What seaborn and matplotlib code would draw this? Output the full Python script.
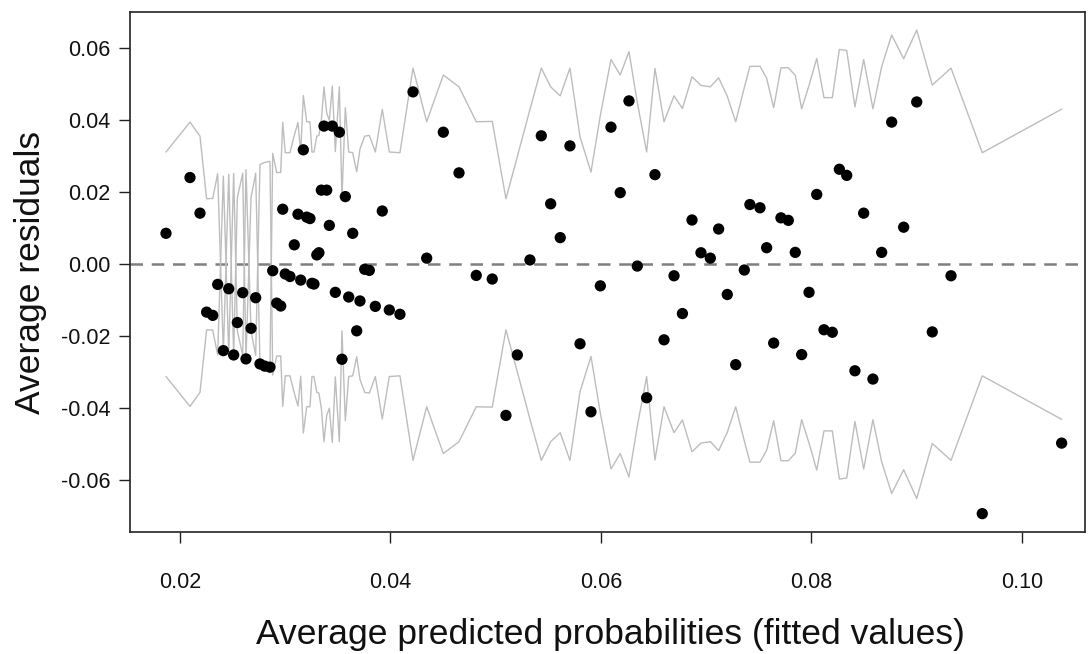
import matplotlib
matplotlib.use("Agg")
import matplotlib.pyplot as plt
import seaborn as sns
import numpy as np
import pandas as pd

# Binned residuals: bin mean of fitted values, bin mean residual, and 2*SE bound
fitted = [
    0.01867, 0.02095, 0.02190, 0.02253, 0.02311, 0.02358, 0.02412, 0.02463, 0.02510, 0.02545,
    0.02596, 0.02627, 0.02675, 0.02719, 0.02760, 0.02805, 0.02855, 0.02881, 0.02919, 0.02957,
    0.02976, 0.03000, 0.03045, 0.03086, 0.03121, 0.03147, 0.03172, 0.03204, 0.03235, 0.03254,
    0.03273, 0.03300, 0.03320, 0.03343, 0.03368, 0.03394, 0.03419, 0.03447, 0.03476, 0.03514,
    0.03539, 0.03571, 0.03603, 0.03641, 0.03679, 0.03710, 0.03755, 0.03799, 0.03856, 0.03922,
    0.03989, 0.04090, 0.04214, 0.04344, 0.04502, 0.04651, 0.04815, 0.04967, 0.05097, 0.05205,
    0.05325, 0.05433, 0.05522, 0.05613, 0.05705, 0.05801, 0.05905, 0.05994, 0.06095, 0.06183,
    0.06266, 0.06345, 0.06434, 0.06513, 0.06599, 0.06694, 0.06774, 0.06865, 0.06950, 0.07039,
    0.07118, 0.07200, 0.07280, 0.07362, 0.07415, 0.07511, 0.07574, 0.07641, 0.07710, 0.07780,
    0.07846, 0.07907, 0.07977, 0.08050, 0.08119, 0.08198, 0.08265, 0.08335, 0.08413, 0.08496,
    0.08584, 0.08667, 0.08762, 0.08876, 0.09000, 0.09148, 0.09326, 0.09623, 0.10377,
]
residual = [
    0.0086, 0.0241, 0.0142, -0.0133, -0.0142, -0.0056, -0.0240, -0.0068, -0.0252, -0.0162,
    -0.0079, -0.0263, -0.0178, -0.0093, -0.0277, -0.0283, -0.0286, -0.0018, -0.0108, -0.0116,
    0.0153, -0.0027, -0.0034, 0.0054, 0.0139, -0.0044, 0.0318, 0.0131, 0.0127, -0.0053,
    -0.0055, 0.0026, 0.0032, 0.0206, 0.0384, 0.0206, 0.0108, 0.0384, -0.0078, 0.0367,
    -0.0264, 0.0188, -0.0091, 0.0086, -0.0185, -0.0102, -0.0014, -0.0017, -0.0117, 0.0148,
    -0.0127, -0.0139, 0.0479, 0.0017, 0.0367, 0.0254, -0.0031, -0.0041, -0.0420, -0.0252,
    0.0012, 0.0357, 0.0168, 0.0074, 0.0329, -0.0221, -0.0410, -0.0060, 0.0381, 0.0199,
    0.0454, -0.0005, -0.0371, 0.0249, -0.0210, -0.0032, -0.0137, 0.0123, 0.0032, 0.0017,
    0.0098, -0.0084, -0.0279, -0.0016, 0.0166, 0.0157, 0.0046, -0.0219, 0.0129, 0.0122,
    0.0033, -0.0251, -0.0078, 0.0194, -0.0182, -0.0189, 0.0264, 0.0247, -0.0296, 0.0142,
    -0.0319, 0.0033, 0.0395, 0.0103, 0.0451, -0.0188, -0.0032, -0.0693, -0.0497,
]
two_se = [
    0.0312, 0.0395, 0.0356, 0.0182, 0.0183, 0.0252, -0.0245, 0.0250, -0.0252, 0.0185,
    0.0253, -0.0263, 0.0185, 0.0253, -0.0277, -0.0283, -0.0286, 0.0308, 0.0255, 0.0255,
    0.0395, 0.0310, 0.0310, 0.0358, 0.0394, 0.0311, 0.0469, 0.0396, 0.0396, 0.0312,
    0.0312, 0.0356, 0.0358, 0.0400, 0.0493, 0.0420, 0.0400, 0.0495, 0.0313, 0.0493,
    0.0185, 0.0435, 0.0312, 0.0310, 0.0257, 0.0320, 0.0356, 0.0358, 0.0312, 0.0430,
    0.0312, 0.0310, 0.0545, 0.0396, 0.0526, 0.0493, 0.0396, 0.0397, 0.0182, 0.0299,
    0.0430, 0.0545, 0.0493, 0.0468, 0.0545, 0.0354, 0.0256, 0.0414, 0.0569, 0.0526,
    0.0591, 0.0450, 0.0312, 0.0544, 0.0396, 0.0468, 0.0433, 0.0521, 0.0497, 0.0493,
    0.0518, 0.0467, 0.0396, 0.0491, 0.0550, 0.0550, 0.0517, 0.0435, 0.0546, 0.0546,
    0.0525, 0.0432, 0.0497, 0.0572, 0.0463, 0.0463, 0.0597, 0.0594, 0.0437, 0.0569,
    0.0432, 0.0549, 0.0637, 0.0571, 0.0651, 0.0498, 0.0545, 0.0310, 0.0431,
]
x_ticks = [0.02, 0.04, 0.06, 0.08, 0.10]
y_ticks = [-0.06, -0.04, -0.02, 0.00, 0.02, 0.04, 0.06]
x_label = "Average predicted probabilities (fitted values)"
y_label = "Average residuals"

df = pd.DataFrame({"fitted": fitted, "residual": residual,
                   "upper": two_se, "lower": [-v for v in two_se]})

sns.set_theme(style="white")
plt.rcParams["font.family"] = ["Liberation Sans", "DejaVu Sans"]

fig = plt.figure(figsize=(10.88, 6.54), dpi=100)
ax = fig.add_axes([130 / 1088, 1 - 532 / 654, 955 / 1088, 520 / 654])

band_kw = dict(color="#bdbdbd", linewidth=1.0, estimator=None, sort=False, legend=False)
sns.lineplot(data=df, x="fitted", y="upper", ax=ax, **band_kw)
sns.lineplot(data=df, x="fitted", y="lower", ax=ax, **band_kw)

ax.axhline(0, color="#7f7f7f", linewidth=1.8, linestyle=(0, (5, 3.5)), zorder=1)

sns.scatterplot(data=df, x="fitted", y="residual", ax=ax, color="black",
                s=66, edgecolor="none", zorder=3, legend=False)

ax.set_xlim(0.01525, 0.10599)
ax.set_ylim(-0.0744, 0.0701)
ax.set_xticks(x_ticks)
ax.set_xticklabels([f"{v:.2f}" for v in x_ticks])
ax.set_yticks(y_ticks)
ax.set_yticklabels([f"{v:.2f}" for v in y_ticks])

for sp in ax.spines.values():
    sp.set_visible(True)
    sp.set_color("#222222")
    sp.set_linewidth(1.2)

ax.tick_params(axis="both", which="major", direction="out", length=8, width=1.0,
               color="#222222", labelsize=15.5, labelcolor="#111111",
               bottom=True, left=True)
ax.tick_params(axis="x", pad=21)
ax.tick_params(axis="y", pad=6)

ax.set_xlabel(x_label, fontsize=25.5, color="#111111", va="center", ha="center")
ax.xaxis.set_label_coords(0.503, -0.197)
ax.set_ylabel(y_label, fontsize=25.5, color="#111111", va="center", ha="center")
ax.yaxis.set_label_coords(-0.104, 0.5)
ax.grid(False)

fig.savefig("out.png", dpi=100, facecolor="white")
